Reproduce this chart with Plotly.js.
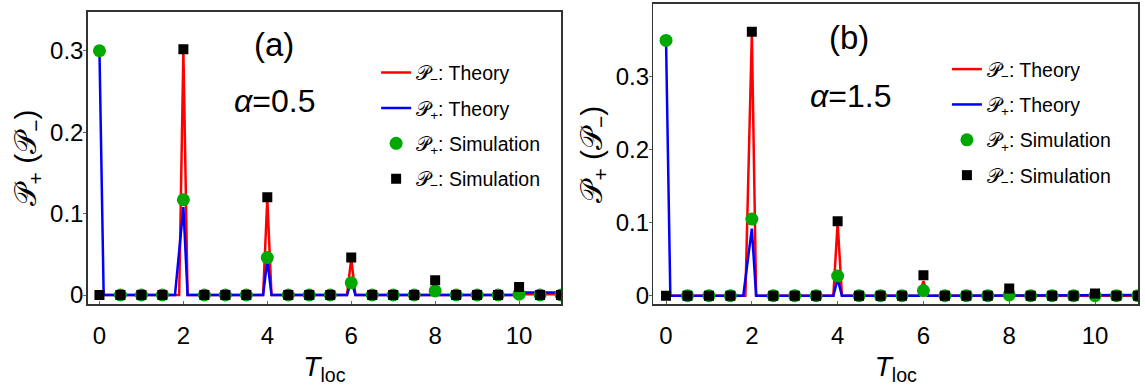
<!DOCTYPE html>
<html>
<head>
<meta charset="utf-8">
<script src="https://cdn.plot.ly/plotly-3.0.1.min.js"></script>
<style>html,body{margin:0;padding:0;background:#fff;}#chart{width:1145px;height:387px;}</style>
</head>
<body>
<div id="chart"></div>
<script>
// Simulation sample points (T_loc)
const simX = [0,0.5,1,1.5,2,2.5,3,3.5,4,4.5,5,5.5,6,6.5,7,7.5,8,8.5,9,9.5,10,10.5,11];

// Panel (a): alpha = 0.5
const a_simPlus  = [0.300,0,0,0,0.117,0,0,0,0.046,0,0,0,0.015,0,0,0,0.005,0,0,0,0.001,0,0];
const a_simMinus = [0,0,0,0,0.302,0,0,0,0.120,0,0,0,0.046,0,0,0,0.018,0,0,0,0.010,0,0];
const a_thMinusX = [0,1.9,2,2.1,3.9,4,4.1,5.9,6,6.1,7.9,8,8.1,9.9,10,10.1,11];
const a_thMinusY = [0,0,0.300,0,0,0.118,0,0,0.045,0,0,0.015,0,0,0.006,0.001,0.001];
const a_thPlusX  = [0,0.1,1.8,2,2.1,3.9,4,4.1,5.9,6,6.1,7.9,8,8.1,9.9,10,10.1,11];
const a_thPlusY  = [0.300,0,0,0.108,0,0,0.043,0,0,0.018,0,0,0.008,0,0,0.003,0.003,0.003];

// Panel (b): alpha = 1.5
const b_simPlus  = [0.350,0,0,0,0.105,0,0,0,0.027,0,0,0,0.007,0,0,0,0.001,0,0,0,0,0,0];
const b_simMinus = [0,0,0,0,0.362,0,0,0,0.102,0,0,0,0.028,0,0,0,0.010,0,0,0,0.003,0,0];
const b_thMinusX = [0,1.85,2,2.1,3.9,4,4.1,5.9,6,6.1,7.9,8,8.1,9.9,10,10.1,11];
const b_thMinusY = [0,0,0.360,0,0,0.100,0,0,0.020,0,0,0.004,0,0,0.001,0,0];
const b_thPlusX  = [0,0.1,1.8,2,2.1,3.9,4,4.1,5.9,6,6.1,7.9,8,8.1,9.9,10,10.1,11];
const b_thPlusY  = [0.350,0,0,0.092,0,0,0.023,0,0,0.006,0,0,0.001,0,0,0.001,0.001,0.001];

const xTicks = [0,2,4,6,8,10];
const yTicks = [0,0.1,0.2,0.3];
const yTickText = ['0','0.1','0.2','0.3'];

const P = '\u{1D4AB}';
const names = {
  thMinus: P + '<sub>\u2212</sub>: Theory',
  thPlus: P + '<sub>+</sub>: Theory',
  simPlus: P + '<sub>+</sub>: Simulation',
  simMinus: P + '<sub>\u2212</sub>: Simulation'
};

const RED = 'rgb(255,0,0)', BLUE = 'rgb(0,0,255)', GREEN = 'rgb(0,168,0)';
function panel(xa, ya, leg, thMX, thMY, thPX, thPY, sP, sM, tag) {
  return [
    {x: thMX, y: thMY, type:'scatter', mode:'lines', line:{color:RED, width:2.5}, name:names.thMinus, xaxis:xa, yaxis:ya, legend:leg, legendgroup:tag+'1'},
    {x: thPX, y: thPY, type:'scatter', mode:'lines', line:{color:BLUE, width:2.5}, name:names.thPlus, xaxis:xa, yaxis:ya, legend:leg, legendgroup:tag+'2'},
    {x: simX, y: sP, type:'scatter', mode:'markers', marker:{color:GREEN, size:13, symbol:'circle'}, name:names.simPlus, xaxis:xa, yaxis:ya, legend:leg, legendgroup:tag+'3'},
    {x: simX, y: sM, type:'scatter', mode:'markers', marker:{color:'#000', size:10, symbol:'square'}, name:names.simMinus, xaxis:xa, yaxis:ya, legend:leg, legendgroup:tag+'4'}
  ];
}
const data = [].concat(
  panel('x','y','legend', a_thMinusX, a_thMinusY, a_thPlusX, a_thPlusY, a_simPlus, a_simMinus, 'a'),
  panel('x2','y2','legend2', b_thMinusX, b_thMinusY, b_thPlusX, b_thPlusY, b_simPlus, b_simMinus, 'b')
);

const FONT = 'Liberation Sans, Arial, sans-serif';
function xax(dom) {
  return {domain: dom, range:[-0.28, 11.0], tickvals:xTicks, ticks:'inside', ticklen:3, tickcolor:'#666',
    showline:true, mirror:true, linecolor:'#333', linewidth:1.5, showgrid:false, zeroline:false,
    tickfont:{size:24, color:'#000'}, automargin:false, ticklabelstandoff:9,
    title:{text:'<i>T</i><sub>loc</sub>', font:{size:28, color:'#000'}, standoff:9}};
}
function yax(dom, rng, anchor) {
  return {domain: dom, range:rng, tickvals:yTicks, ticktext:yTickText, ticks:'outside', ticklen:3, tickcolor:'#666',
    showline:true, mirror:true, linecolor:'#333', linewidth:1.5, showgrid:false, zeroline:false,
    tickfont:{size:24, color:'#000'}, automargin:false, anchor:anchor, ticklabelstandoff:-5,
    title:{text: P + '<sub>+</sub> (' + P + '<sub>\u2212</sub>)', font:{size:30, color:'#000'}, standoff:4}};
}
function legend(x, y) {
  return {x:x, y:y, xanchor:'left', yanchor:'top', bgcolor:'rgba(0,0,0,0)', borderwidth:0,
    font:{size:19.5, color:'#000', family:FONT}, traceorder:'grouped', tracegroupgap:7, itemwidth:30};
}

const layout = {
  width:1145, height:387, margin:{l:0,r:0,t:0,b:0}, paper_bgcolor:'#fff', plot_bgcolor:'#fff',
  font:{family:FONT, color:'#000'},
  xaxis: xax([0.0766, 0.4900]),
  yaxis: yax([0.2137, 0.9698], [-0.0114, 0.348], 'x'),
  xaxis2: Object.assign(xax([0.5706, 0.9942]), {anchor:'y2', range:[-0.296, 11.01]}),
  yaxis2: yax([0.2137, 0.9897], [-0.0118, 0.40], 'x2'),
  legend: legend(0.3285, 0.862),
  legend2: legend(0.8270, 0.871),
  showlegend:true,
  annotations:[
    {text:'(a)', x:274/1145, y:1-45/387, xref:'paper', yref:'paper', xanchor:'center', yanchor:'middle', showarrow:false, font:{size:33}},
    {text:'<i>\u03B1</i>=0.5', x:274/1145, y:1-101/387, xref:'paper', yref:'paper', xanchor:'center', yanchor:'middle', showarrow:false, font:{size:32}},
    {text:'(b)', x:849/1145, y:1-38/387, xref:'paper', yref:'paper', xanchor:'center', yanchor:'middle', showarrow:false, font:{size:33}},
    {text:'<i>\u03B1</i>=1.5', x:850/1145, y:1-96/387, xref:'paper', yref:'paper', xanchor:'center', yanchor:'middle', showarrow:false, font:{size:32}}
  ]
};
layout.xaxis.anchor = 'y';
Plotly.newPlot('chart', data, layout, {displayModeBar:false, staticPlot:true});
</script>
</body>
</html>
